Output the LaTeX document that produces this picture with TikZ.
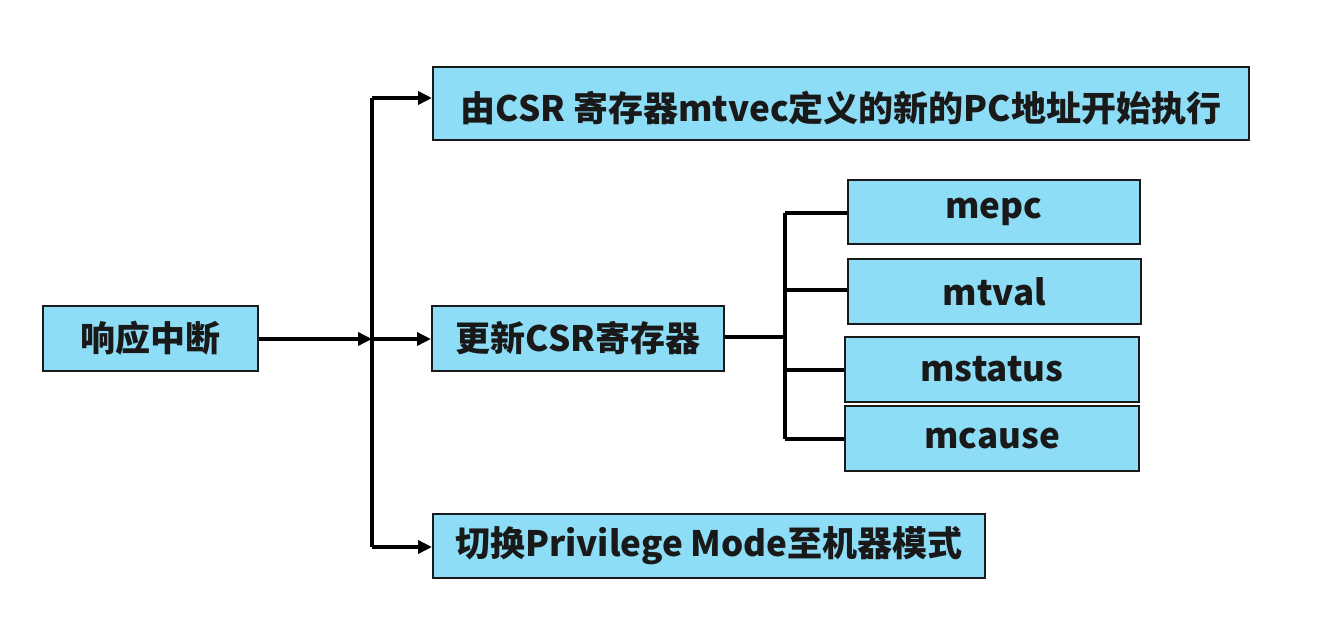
\documentclass[tikz,border=0pt]{standalone}
\usepackage{fontspec}
\setmainfont{Noto Sans CJK SC}
\usetikzlibrary{arrows.meta,positioning}
\definecolor{boxfill}{HTML}{8EDDF6}
\definecolor{boxline}{HTML}{1A1A1A}
\tikzset{
  box/.style={draw=boxline, line width=2pt, fill=boxfill, inner sep=0pt,
    font=\fontsize{35}{38}\selectfont\bfseries, text=black!90},
  conn/.style={line width=4pt, line join=miter, draw=black},
  arr/.style={conn, -{Triangle[length=14pt,width=13pt]}},
}
\begin{document}
\begin{tikzpicture}[x=1pt,y=-1pt]
\useasboundingbox[fill=white] (0,0) rectangle (1329,619);
\node[box, minimum width=215pt, minimum height=65pt] (int) at (150.5,338.5) {响应中断};
\node[box, minimum width=816pt, minimum height=73pt, text height=36pt, text depth=0pt] (top) at (841,103.5) {由CSR 寄存器mtvec定义的新的PC地址开始执行};
\node[box, minimum width=292pt, minimum height=65pt] (upd) at (578,338.5) {更新CSR寄存器};
\node[box, minimum width=552pt, minimum height=64pt] (bot) at (709,546) {切换Privilege Mode至机器模式};
\node[box, minimum width=292pt, minimum height=64pt] (mepc) at (994,212) {mepc};
\node[box, minimum width=293pt, minimum height=65pt] (mtval) at (994.5,291.5) {mtval};
\node[box, minimum width=294pt, minimum height=65pt] (mstatus) at (992,369.5) {mstatus};
\node[box, minimum width=294pt, minimum height=65pt] (mcause) at (992,438.5) {mcause};
% first trunk
\coordinate (j1) at (372,98);
\coordinate (j2) at (372,339);
\coordinate (j3) at (372,547);
\draw[conn] (j1) -- (j3);
\draw[arr] (j1) -- (j1 -| top.west);
\draw[arr] (j2) -- (j2 -| upd.west);
\draw[arr] (j3) -- (j3 -| bot.west);
\draw[arr] (int.east |- j2) -- (j2);
% second trunk
\coordinate (k1) at (785,213);
\coordinate (k4) at (785,439);
\coordinate (k0) at (785,337);
\draw[conn] (k1) -- (k4);
\draw[conn] (upd.east |- k0) -- (k0);
\draw[conn] (k1) -- (k1 -| mepc.west);
\draw[conn] (785,290) -- (mtval.west |- 0,290);
\draw[conn] (785,370) -- (mstatus.west |- 0,370);
\draw[conn] (k4) -- (k4 -| mcause.west);
\end{tikzpicture}
\end{document}
